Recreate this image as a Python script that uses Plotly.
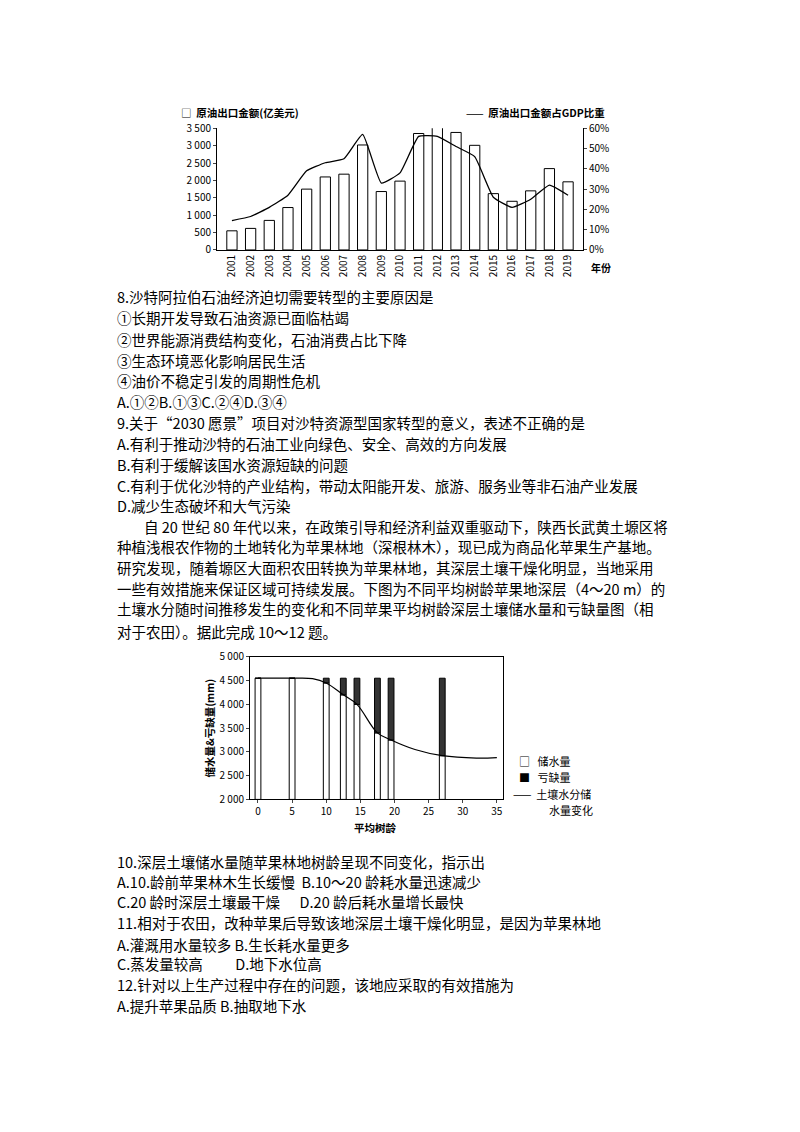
import plotly.graph_objects as go

# ---- top chart data ----
years = list(range(2001, 2020))
export_value = [550, 620, 850, 1220, 1750, 2100, 2180, 3020, 1680, 1980, 3350, 3530, 3380, 3010, 1620, 1400, 1700, 2340, 1960]
gdp_share = [14.5, 16.5, 21, 27, 39, 43, 45, 57, 33, 38, 56, 56, 51, 46, 26, 21, 25, 32, 27]
left_ticks = [0, 500, 1000, 1500, 2000, 2500, 3000, 3500]
left_tick_text = ["0", "500", "1 000", "1 500", "2 000", "2 500", "3 000", "3 500"]
right_ticks = [0, 10, 20, 30, 40, 50, 60]
right_tick_text = ["0%", "10%", "20%", "30%", "40%", "50%", "60%"]

# ---- bottom chart data ----
bar_ages = [0, 5, 10, 12.5, 14.5, 17.5, 19.5, 27]
storage = [4550, 4550, 4450, 4200, 4000, 3400, 3250, 2920]
baseline_total = 4550
curve_ages = [0, 5, 8, 10, 12.5, 14.5, 17.5, 19.5, 23, 27, 32, 35]
curve_vals = [4550, 4550, 4540, 4450, 4200, 4000, 3400, 3250, 3050, 2920, 2870, 2880]
b_yticks = [2000, 2500, 3000, 3500, 4000, 4500, 5000]
b_ytext = ["2 000", "2 500", "3 000", "3 500", "4 000", "4 500", "5 000"]

W, H = 800, 1132
def py(p):
    q = (p - 8.5) / 0.9886
    return 1 - (q - 8) / H
def px(p):
    return (p - 8) / W

fig = go.Figure()
fig.add_trace(go.Bar(x=years, y=export_value, marker=dict(color="white", line=dict(color="black", width=1)),
                     width=0.55, xaxis="x", yaxis="y", showlegend=False, cliponaxis=False))
fig.add_trace(go.Scatter(x=years, y=gdp_share, mode="lines", line=dict(color="black", width=1.3, shape="spline", smoothing=0.4),
                         xaxis="x", yaxis="y2", showlegend=False))

fig.add_trace(go.Bar(x=bar_ages, y=[s - 2000 for s in storage], base=2000, width=0.85,
                     marker=dict(color="white", line=dict(color="black", width=1)), xaxis="x3", yaxis="y3", showlegend=False))
fig.add_trace(go.Bar(x=bar_ages, y=[baseline_total - s for s in storage], base=storage, width=0.85,
                     marker=dict(color="#333", line=dict(color="black", width=1)), xaxis="x3", yaxis="y3", showlegend=False))
fig.add_trace(go.Scatter(x=curve_ages, y=curve_vals, mode="lines", line=dict(color="black", width=1.2, shape="spline"),
                         xaxis="x3", yaxis="y3", showlegend=False))

tf = dict(family="Noto Sans CJK SC", size=10, color="black")
fig.update_layout(
    width=W, height=H, margin=dict(l=0, r=0, t=0, b=0), paper_bgcolor="white", plot_bgcolor="white",
    barmode="overlay", font=dict(family="Noto Sans CJK SC", color="black"),
    xaxis=dict(domain=[px(217), px(583)], range=[2000.2, 2019.8], tickvals=years, ticktext=[str(y) for y in years],
               tickangle=-90, tickfont=tf, showline=True, linecolor="black", ticks="", showgrid=False, anchor="y"),
    yaxis=dict(domain=[py(250), py(128)], range=[0, 3500], tickvals=left_ticks, ticktext=left_tick_text, tickfont=tf,
               showline=True, linecolor="black", ticks="outside", ticklen=3, showgrid=False, anchor="x"),
    yaxis2=dict(domain=[py(250), py(128)], range=[0, 60], overlaying="y", side="right", tickvals=right_ticks,
                ticktext=right_tick_text, tickfont=tf, showline=True, linecolor="black", ticks="outside", ticklen=3,
                showgrid=False, anchor="x"),
    xaxis3=dict(domain=[px(250), px(503)], range=[-1.17, 35.9], tickvals=[0, 5, 10, 15, 20, 25, 30, 35], tickfont=tf,
                showline=True, linecolor="black", mirror=True, ticks="outside", ticklen=3, showgrid=False, anchor="y3"),
    yaxis3=dict(domain=[py(801), py(658)], range=[2000, 5000], tickvals=b_yticks, ticktext=b_ytext, tickfont=tf,
                showline=True, linecolor="black", mirror=True, ticks="outside", ticklen=3, showgrid=False, anchor="x3"),
)

ann = []
def T(x, y, s, size=15, xa="left", angle=0):
    ann.append(dict(x=px(x), y=py(y), xref="paper", yref="paper", text=s, showarrow=False, xanchor=xa,
                    yanchor="middle", textangle=angle, borderpad=0,
                    font=dict(family="Noto Sans CJK SC", size=size, color="black")))

T(180, 112, "□  <b>原油出口金额(亿美元)</b>", 10.5)
T(606, 112, "——  <b>原油出口金额占GDP比重</b>", 10.5, "right")
T(590, 268, "<b>年份</b>", 10)

lines = [
    (116, 297, "8.沙特阿拉伯石油经济迫切需要转型的主要原因是"),
    (116, 318, "①长期开发导致石油资源已面临枯竭"),
    (116, 340, "②世界能源消费结构变化，石油消费占比下降"),
    (116, 361, "③生态环境恶化影响居民生活"),
    (116, 381, "④油价不稳定引发的周期性危机"),
    (116, 402, "A.①②B.①③C.②④D.③④"),
    (116, 423, "9.关于“2030 愿景”项目对沙特资源型国家转型的意义，表述不正确的是"),
    (116, 444, "A.有利于推动沙特的石油工业向绿色、安全、高效的方向发展"),
    (116, 465, "B.有利于缓解该国水资源短缺的问题"),
    (116, 486, "C.有利于优化沙特的产业结构，带动太阳能开发、旅游、服务业等非石油产业发展"),
    (116, 506, "D.减少生态破坏和大气污染"),
    (143, 527, "自 20 世纪 80 年代以来，在政策引导和经济利益双重驱动下，陕西长武黄土塬区将"),
    (116, 547, "种植浅根农作物的土地转化为苹果林地（深根林木），现已成为商品化苹果生产基地。"),
    (116, 568, "研究发现，随着塬区大面积农田转换为苹果林地，其深层土壤干燥化明显，当地采用"),
    (116, 589, "一些有效措施来保证区域可持续发展。下图为不同平均树龄苹果地深层（4～20 m）的"),
    (116, 610, "土壤水分随时间推移发生的变化和不同苹果平均树龄深层土壤储水量和亏缺量图（相"),
    (116, 633, "对于农田）。据此完成 10～12 题。"),
    (116, 863, "10.深层土壤储水量随苹果林地树龄呈现不同变化，指示出"),
    (116, 883, "A.10.龄前苹果林木生长缓慢  B.10～20 龄耗水量迅速减少"),
    (116, 903, "C.20 龄时深层土壤最干燥      D.20 龄后耗水量增长最快"),
    (116, 924, "11.相对于农田，改种苹果后导致该地深层土壤干燥化明显，是因为苹果林地"),
    (116, 946, "A.灌溉用水量较多 B.生长耗水量更多"),
    (116, 966, "C.蒸发量较高          D.地下水位高"),
    (116, 987, "12.针对以上生产过程中存在的问题，该地应采取的有效措施为"),
    (116, 1008, "A.提升苹果品质 B.抽取地下水"),
]
for x, y, s in lines:
    T(x, y, s, 14.5)

T(375, 829, "<b>平均树龄</b>", 10.5, "center")
T(210, 730, "<b>储水量&亏缺量(mm)</b>", 10.5, "center", -90)
T(518, 762, "□   储水量", 11)
T(518, 779, "■   亏缺量", 11)
T(512, 796, "——  土壤水分储", 11)
T(548, 812, "水量变化", 11)

fig.update_layout(annotations=ann)
fig.write_html("out.html")
